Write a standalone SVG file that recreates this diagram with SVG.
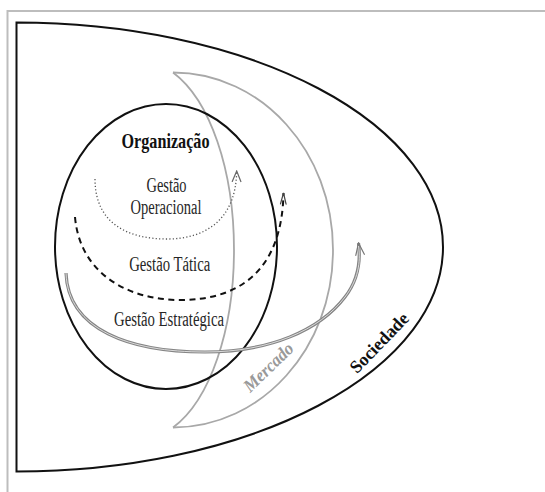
<svg xmlns="http://www.w3.org/2000/svg" width="545" height="492" viewBox="0 0 545 492">
  <style>
    .frame { fill: none; stroke: #bdbdbd; stroke-width: 2; }
    .black { fill: none; stroke: #111; stroke-width: 2; }
    .market { fill: none; stroke: #a8a8a8; stroke-width: 1.8; }
    .lbl { font-family: "Liberation Serif", "Times New Roman", serif; fill: #262626; font-size: 20px; text-anchor: middle; }
    .title { font-weight: bold; font-size: 21px; fill: #111; }
    .ring { font-family: "Liberation Serif", "Times New Roman", serif; font-weight: bold; font-size: 18px; text-anchor: middle; }
    .op { fill: none; stroke: #555; stroke-width: 1.3; stroke-dasharray: 1.2 2.2; }
    .tat { fill: none; stroke: #111; stroke-width: 2; stroke-dasharray: 6 4.5; }
    .est { fill: none; stroke: #858585; stroke-width: 3.2; }
    .est-in { fill: none; stroke: #e4e4e4; stroke-width: 0.9; }
    .chev { fill: none; stroke-width: 1.2; stroke-linecap: round; stroke-linejoin: miter; }
  </style>
  <defs>
    <marker id="arrOp" viewBox="-12 -6 13 12" refX="0" refY="0" markerWidth="13" markerHeight="12" markerUnits="userSpaceOnUse" orient="auto">
      <path class="chev" d="M-10.5,-4.3 L0,0 L-10.5,4.3" stroke="#666"/>
    </marker>
    <marker id="arrTat" viewBox="-12 -6 13 12" refX="0" refY="0" markerWidth="13" markerHeight="12" markerUnits="userSpaceOnUse" orient="auto">
      <path class="chev" d="M-11,-2.8 L0,0 L-11,2.8" stroke="#444"/>
    </marker>
    <marker id="arrEst" viewBox="-13 -6 14 12" refX="0" refY="0" markerWidth="14" markerHeight="12" markerUnits="userSpaceOnUse" orient="auto">
      <path class="chev" d="M-12,-4.3 L0,0 L-12,4.3" stroke="#777"/>
    </marker>
  </defs>

  <!-- picture frame -->
  <path class="frame" d="M7.5,492 L7.5,11 L545,11"/>

  <!-- society: half ellipse closed by the left edge -->
  <g id="sociedade">
    <path class="black" d="M16.5,22.5 A426.5,224.5 0 0 1 16.5,471.5 Z"/>
    <text class="ring" fill="#111" transform="translate(383.5,347) rotate(-46)" textLength="76" lengthAdjust="spacingAndGlyphs">Sociedade</text>
  </g>

  <!-- market: crescent -->
  <g id="mercado">
    <path class="market" d="M173,72.5 C262,72.5 333,152 333,250 C333,348 262,427.5 173,427.5"/>
    <path class="market" d="M173,72.5 C210,100 234,170 234,250 C234,330 210,400 173,427.5"/>
    <text class="ring" font-style="italic" fill="#999" transform="translate(272.5,371.5) rotate(-44)" textLength="62" lengthAdjust="spacingAndGlyphs">Mercado</text>
  </g>

  <!-- organisation -->
  <g id="organizacao">
    <ellipse class="black" cx="166" cy="246.5" rx="111" ry="142.5"/>
    <text class="lbl title" x="165.5" y="148" textLength="88" lengthAdjust="spacingAndGlyphs">Organização</text>
  </g>

  <g id="gestao-operacional">
    <text class="lbl" x="166.5" y="191.7" textLength="40" lengthAdjust="spacingAndGlyphs">Gestão</text>
    <text class="lbl" x="166" y="214.3" textLength="71" lengthAdjust="spacingAndGlyphs">Operacional</text>
  </g>
  <g id="gestao-tatica">
    <text class="lbl" x="169.7" y="270.7" textLength="81" lengthAdjust="spacingAndGlyphs">Gestão Tática</text>
  </g>
  <g id="gestao-estrategica">
    <text class="lbl" x="169" y="325.5" textLength="110" lengthAdjust="spacingAndGlyphs">Gestão Estratégica</text>
  </g>

  <!-- management-level arrows -->
  <g id="connectors">
    <path class="op" d="M95,179 C95,225 130,239 167,239 C205,239 236,220 236.7,171" marker-end="url(#arrOp)"/>
    <path class="tat" d="M75,217 C80,275 130,300 180,300 C240,300 282,270 283.5,193" marker-end="url(#arrTat)"/>
    <path class="est" d="M66,273 C68,330 130,352 205,352 C270,352 320,330 345,297 C358,280 361,262 358.5,243" marker-end="url(#arrEst)"/>
    <path class="est-in" d="M66,273 C68,330 130,352 205,352 C270,352 320,330 345,297 C358,280 361,262 358.5,246"/>
  </g>
</svg>
